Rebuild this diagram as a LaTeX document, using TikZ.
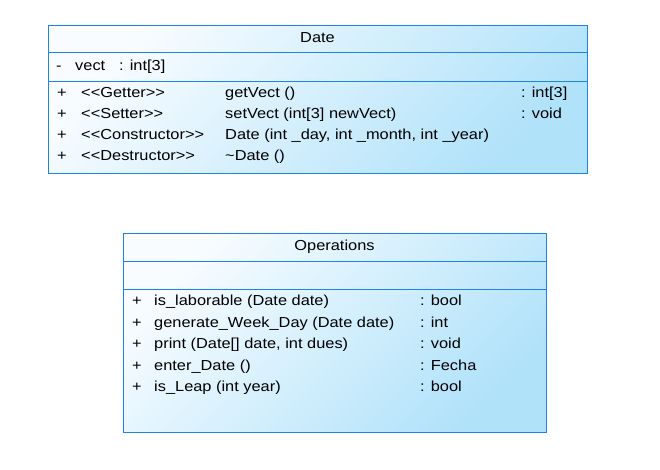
\documentclass[tikz,border=0pt]{standalone}
\usepackage{fontspec}
\setmainfont[FakeStretch=1.13]{Liberation Sans}
\usepackage{xcolor}
\usepackage{tikz}

\definecolor{umlline}{RGB}{30,130,230}
\definecolor{umllight}{RGB}{248,252,255}
\definecolor{umldark}{RGB}{176,226,250}

\tikzset{
    classbox/.style={draw=umlline, line width=1pt, top color=umllight, bottom color=umldark,
        shading angle=45, anchor=north west, inner sep=0pt},
    sepline/.style={draw=umlline, line width=0.8pt},
    txt/.style={anchor=base west, inner sep=0pt, font=\fontsize{14.5}{16}\selectfont},
    title/.style={anchor=base, inner sep=0pt, font=\fontsize{14.5}{16}\selectfont},
}

\begin{document}
\begin{tikzpicture}[x=1pt, y=-1pt]
                \useasboundingbox (0,0) rectangle (660,470);
                % class Date
                \node[classbox, minimum width=539pt, minimum height=148pt] (date) at (48,25) {};
                \draw[sepline] ([yshift=-27pt]date.north west) -- ([yshift=-27pt]date.north east);
                \draw[sepline] ([yshift=-56pt]date.north west) -- ([yshift=-56pt]date.north east);
                \node[title] (datename) at (317.5,43) {Date};
                \node[txt] (attrvis) at (56,71) {-};
                \node[txt] (attrname) at (75,71) {vect};
                \node[txt] (attrtype) at (119,71) {: int[3]};
                \foreach \kind/\sig/\ret[count=\i] in {
                    {<{}<Getter>{}>}/{getVect ()}/{: int[3]},
                    {<{}<Setter>{}>}/{setVect (int[3] newVect)}/{: void},
                    {<{}<Constructor>{}>}/{Date (int \_day, int \_month, int \_year)}/{},
                    {<{}<Destructor>{}>}/{\textasciitilde Date ()}/{}} {
                    \node[txt] (dvis\i) at (57, {97.3+(\i-1)*21.2}) {+};
                    \node[txt] (dkind\i) at (81, {97.3+(\i-1)*21.2}) {\kind};
                    \node[txt] (dsig\i) at (225, {97.3+(\i-1)*21.2}) {\sig};
                    \node[txt] (dret\i) at (521, {97.3+(\i-1)*21.2}) {\ret};
                }
                % class Operations
                \node[classbox, minimum width=423pt, minimum height=199pt] (ops) at (123,233) {};
                \draw[sepline] ([yshift=-28pt]ops.north west) -- ([yshift=-28pt]ops.north east);
                \draw[sepline] ([yshift=-56pt]ops.north west) -- ([yshift=-56pt]ops.north east);
                \node[title] (opsname) at (334.5,250) {Operations};
                \foreach \sig/\ret[count=\i] in {
                    {is\_laborable (Date date)}/{: bool},
                    {generate\_Week\_Day (Date date)}/{: int},
                    {print (Date[] date, int dues)}/{: void},
                    {enter\_Date ()}/{: Fecha},
                    {is\_Leap (int year)}/{: bool}} {
                    \node[txt] (ovis\i) at (132, {305.8+(\i-1)*21.4}) {+};
                    \node[txt] (osig\i) at (154, {305.8+(\i-1)*21.4}) {\sig};
                    \node[txt] (oret\i) at (420, {305.8+(\i-1)*21.4}) {\ret};
                }
            \end{tikzpicture}
\end{document}
